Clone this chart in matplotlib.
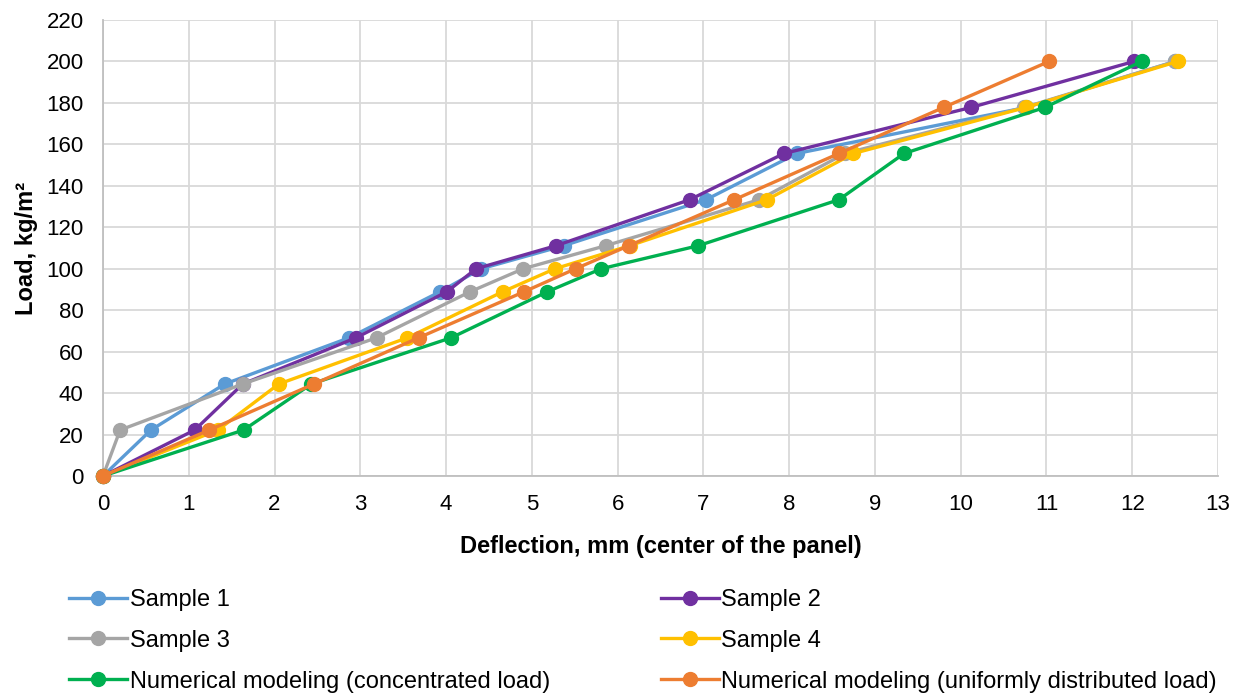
import matplotlib
matplotlib.use("Agg")
import matplotlib.pyplot as plt

plt.rcParams["font.family"] = ["Liberation Sans", "DejaVu Sans"]

load = [0, 22.2, 44.4, 66.7, 88.9, 100, 111.1, 133.3, 155.6, 177.8, 200]

sample1 = [0, 0.56, 1.42, 2.87, 3.93, 4.41, 5.37, 7.03, 8.09, 10.76, 12.50]
sample2 = [0, 1.07, 1.63, 2.95, 4.01, 4.35, 5.28, 6.84, 7.94, 10.12, 12.02]
sample3 = [0, 0.20, 1.63, 3.19, 4.28, 4.90, 5.86, 7.65, 8.65, 10.74, 12.50]
sample4 = [0, 1.34, 2.05, 3.55, 4.66, 5.27, 6.14, 7.74, 8.75, 10.76, 12.53]
num_conc = [0, 1.64, 2.43, 4.06, 5.18, 5.81, 6.94, 8.58, 9.34, 10.98, 12.11]
num_unif = [0, 1.24, 2.46, 3.68, 4.91, 5.51, 6.13, 7.36, 8.58, 9.80, 11.03]

series = [
    ("Sample 1", sample1, "#5B9BD5"),
    ("Sample 2", sample2, "#7030A0"),
    ("Sample 3", sample3, "#A5A5A5"),
    ("Sample 4", sample4, "#FFC000"),
    ("Numerical modeling (concentrated load)", num_conc, "#00B050"),
    ("Numerical modeling (uniformly distributed load)", num_unif, "#ED7D31"),
]

x_ticks = list(range(0, 14))
y_ticks = list(range(0, 221, 20))

fig = plt.figure(figsize=(12.48, 6.93), dpi=100)
ax = fig.add_axes([103 / 1248, 1 - 476 / 693, (1218 - 103) / 1248, (476 - 20) / 693])

handles = {}
for name, xs, color in series:
    (h,) = ax.plot(xs, load, color=color, lw=2.4, marker="o", markersize=10,
                   label=name, clip_on=False, zorder=3)
    handles[name] = h

ax.set_xlim(0, 13)
ax.set_ylim(0, 220)
ax.set_xticks(x_ticks)
ax.set_yticks(y_ticks)
ax.grid(True, color="#D9D9D9", lw=1.3)
ax.set_axisbelow(True)
for s in ["top", "right"]:
    ax.spines[s].set_visible(False)
for s in ["left", "bottom"]:
    ax.spines[s].set_color("#BFBFBF")
    ax.spines[s].set_linewidth(1.3)
ax.tick_params(length=0, labelsize=16)
ax.tick_params(axis="x", pad=13)
ax.tick_params(axis="y", pad=14)

ax.set_xlabel("Deflection, mm (center of the panel)", fontsize=17, fontweight="bold", labelpad=14)
ax.set_ylabel("Load, kg/m²", fontsize=17, fontweight="bold", labelpad=6)

order = [series[0][0], series[2][0], series[4][0], series[1][0], series[3][0], series[5][0]]
fig.legend([handles[n] for n in order], order, ncol=2, frameon=False,
           loc="upper left", bbox_to_anchor=(0.048, 0.164), fontsize=17,
           handlelength=2.45, handletextpad=0.1, columnspacing=4.7,
           labelspacing=0.8, borderaxespad=0)

fig.savefig("out.png", dpi=100)
